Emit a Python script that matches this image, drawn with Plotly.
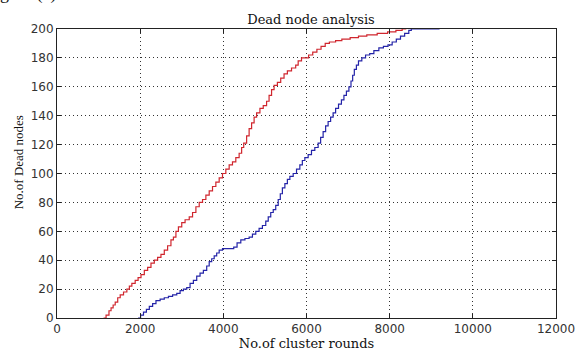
import plotly.graph_objects as go

# Cumulative dead nodes versus cluster rounds (step curves)
red_rounds = [1120, 1180, 1250, 1300, 1350, 1400, 1460, 1520, 1600, 1680, 1740, 1800,
              1880, 1950, 2020, 2100, 2180, 2260, 2340, 2420, 2500, 2580, 2660, 2740,
              2800, 2860, 2920, 3000, 3080, 3180, 3260, 3340, 3420, 3500, 3580, 3660,
              3740, 3820, 3900, 3980, 4060, 4140, 4220, 4300, 4380, 4440, 4490, 4560,
              4620, 4680, 4740, 4800, 4880, 4960, 5040, 5100, 5160, 5220, 5300, 5380,
              5460, 5540, 5640, 5740, 5800, 5880, 5980, 6050, 6150, 6250, 6350, 6450,
              6550, 6700, 6850, 7050, 7250, 7450, 7700, 7950, 8150, 8300, 8400]
red_dead = [0, 2, 5, 7, 9, 11, 14, 16, 18, 20, 22, 24,
            26, 28, 30, 33, 35, 38, 40, 42, 44, 47, 50, 54,
            56, 60, 63, 66, 68, 70, 73, 77, 80, 82, 85, 88,
            91, 94, 97, 100, 103, 106, 108, 111, 114, 118, 121, 126,
            131, 135, 139, 142, 145, 147, 150, 154, 158, 161, 163, 166,
            169, 171, 173, 175, 178, 180, 180, 182, 184, 186, 188, 190,
            191, 192, 193, 194, 195, 196, 197, 198, 199, 200, 200]

blue_rounds = [1950, 2010, 2080, 2150, 2220, 2300, 2380, 2480, 2580, 2680, 2780, 2880,
               2960, 3040, 3120, 3200, 3280, 3360, 3440, 3520, 3600, 3660, 3720, 3780,
               3840, 3900, 3980, 4100, 4250, 4330, 4420, 4520, 4620, 4700, 4780, 4860,
               4940, 5020, 5080, 5140, 5200, 5260, 5320, 5370, 5420, 5480, 5540, 5600,
               5680, 5760, 5840, 5900, 5960, 6040, 6120, 6200, 6280, 6340, 6400, 6460,
               6520, 6580, 6640, 6700, 6770, 6840, 6900, 6960, 7020, 7070, 7110, 7150,
               7200, 7250, 7330, 7420, 7520, 7620, 7740, 7850, 7960, 8060, 8160, 8260,
               8360, 8460, 8520, 9200]
blue_dead = [0, 2, 4, 6, 8, 10, 12, 13, 14, 15, 16, 17,
             19, 20, 21, 24, 26, 29, 31, 33, 36, 39, 41, 43,
             45, 47, 48, 48, 49, 52, 54, 55, 56, 58, 60, 62,
             64, 67, 70, 73, 75, 78, 82, 86, 90, 93, 96, 98,
             100, 103, 106, 109, 111, 113, 116, 118, 121, 125, 129, 133,
             136, 139, 142, 145, 148, 151, 154, 157, 160, 164, 168, 172,
             175, 178, 180, 182, 183, 185, 187, 188, 189, 191, 193, 195,
             197, 199, 200, 200]

x_ticks = [0, 2000, 4000, 6000, 8000, 10000, 12000]
y_ticks = [0, 20, 40, 60, 80, 100, 120, 140, 160, 180, 200]

fig = go.Figure()
fig.add_trace(go.Scatter(x=red_rounds, y=red_dead, mode="lines", line_shape="hv",
                         line=dict(color="#d0262e", width=1.2), showlegend=False))
fig.add_trace(go.Scatter(x=blue_rounds, y=blue_dead, mode="lines", line_shape="hv",
                         line=dict(color="#2424a8", width=1.2), showlegend=False))

axis_common = dict(
    showline=True, linecolor="#222", linewidth=1, mirror="ticks",
    ticks="inside", ticklen=4, tickcolor="#222",
    showgrid=True, gridcolor="#333", griddash="1px,3px", gridwidth=1,
    zeroline=False,
    tickfont=dict(family="DejaVu Sans", size=12, color="#333"),
)

fig.update_layout(
    width=587, height=360,
    margin=dict(l=57, r=22, t=29, b=26),
    paper_bgcolor="white", plot_bgcolor="white",
    title=dict(text="Dead node analysis", x=311 / 587, xanchor="center",
               y=1 - 19 / 360, yanchor="middle", yref="container",
               font=dict(family="DejaVu Serif", size=13, color="#111")),
    xaxis=dict(range=[0, 12000], tickvals=x_ticks, ticktext=[str(v) for v in x_ticks],
               title=dict(text="No.of cluster rounds", standoff=2,
                          font=dict(family="DejaVu Serif", size=13, color="#111")),
               **axis_common),
    yaxis=dict(range=[0, 200], tickvals=y_ticks, ticktext=[str(v) for v in y_ticks],
               **axis_common),
)

# Vertical axis title
fig.add_annotation(text="No.of Dead nodes", xref="paper", yref="paper",
                   x=-39 / 508, y=(334 - 170) / 305, xanchor="center", yanchor="middle",
                   textangle=-90, showarrow=False,
                   font=dict(family="Liberation Serif", size=13, color="#111"))

# Caption of the figure, mostly above the page edge
fig.add_annotation(text="Figure (a)", xref="paper", yref="paper",
                   x=-75 / 508, y=1 + 24 / 305, xanchor="left", yanchor="bottom",
                   showarrow=False,
                   font=dict(family="Liberation Serif", size=18, color="#111"))

fig.write_html("out.html")
